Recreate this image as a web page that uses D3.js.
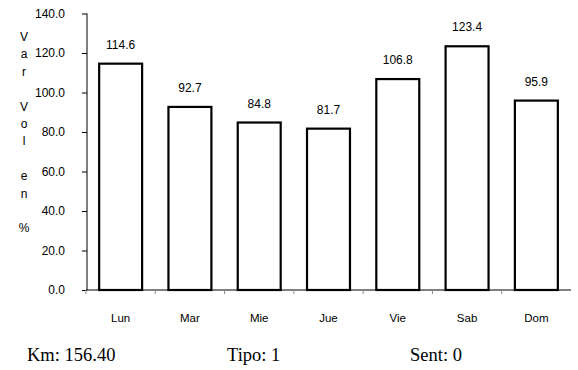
<!DOCTYPE html>
<html><head><meta charset="utf-8">
<script src="https://cdn.jsdelivr.net/npm/d3@7"></script>
<style>body{margin:0;background:#fff}svg{display:block}</style>
</head><body>
<script>
const categories = ["Lun","Mar","Mie","Jue","Vie","Sab","Dom"];
const values = [114.6, 92.7, 84.8, 81.7, 106.8, 123.4, 95.9];
const yTicks = [0,20,40,60,80,100,120,140];
const yTitleChars = ["V","a","r"," ","V","o","l"," ","e","n"," ","%"];
const footer = ["Km: 156.40","Tipo: 1","Sent: 0"];

const W=578,H=370;
const svg=d3.select("body").append("svg").attr("width",W).attr("height",H);
const x0=87,x1=571,yTop=13.5,yBot=290;
const x=d3.scaleBand().domain(categories).range([x0-1,x1]).paddingInner(0.38).paddingOuter(0.19);
const y=d3.scaleLinear().domain([0,140]).range([yBot,yTop]);
const font="Liberation Sans, Arial, sans-serif";

// y axis
const ya=svg.append("g").attr("transform",`translate(${x0},0)`)
  .call(d3.axisLeft(y).tickValues(yTicks).tickFormat(d3.format(".1f")).tickSize(5).tickPadding(17));
ya.select(".domain").remove();
ya.selectAll("line").attr("stroke","#000");
ya.selectAll("text").attr("font-family",font).attr("font-size",12).attr("fill","#000");
svg.append("line").attr("x1",x0).attr("x2",x0).attr("y1",y(140)).attr("y2",yBot).attr("stroke","#000");

// bars
svg.append("g").selectAll("rect").data(values).join("rect")
  .attr("x",(d,i)=>x(categories[i])).attr("width",x.bandwidth())
  .attr("y",d=>y(d)).attr("height",d=>yBot-y(d))
  .attr("fill","#fff").attr("stroke","#000").attr("stroke-width",2.2);

// x axis
svg.append("line").attr("x1",x0-1).attr("x2",x1).attr("y1",yBot).attr("y2",yBot).attr("stroke","#000");
const bounds=d3.range(categories.length).map(i=>x0-1+i*(x.step()));
svg.append("g").selectAll("line").data(bounds).join("line")
  .attr("x1",d=>d).attr("x2",d=>d).attr("y1",yBot).attr("y2",yBot+4).attr("stroke","#888");
svg.append("g").selectAll("text").data(categories).join("text")
  .attr("x",d=>x(d)+x.bandwidth()/2).attr("y",322).attr("text-anchor","middle")
  .attr("font-family",font).attr("font-size",11.5).text(d=>d);

// value labels
svg.append("g").selectAll("text").data(values).join("text")
  .attr("x",(d,i)=>x(categories[i])+x.bandwidth()/2).attr("y",d=>y(d)-15).attr("text-anchor","middle")
  .attr("font-family",font).attr("font-size",12).text(d=>d3.format(".1f")(d));

// y title
svg.append("g").selectAll("text").data(yTitleChars).join("text")
  .attr("x",24).attr("y",(d,i)=>41+i*17.4).attr("text-anchor","middle")
  .attr("font-family",font).attr("font-size",12).text(d=>d);

// footer
const fx=[27,227,410];
svg.append("g").selectAll("text").data(footer).join("text")
  .attr("x",(d,i)=>fx[i]).attr("y",361)
  .attr("font-family","Liberation Serif, Times New Roman, serif").attr("font-size",18.5).text(d=>d);
</script>
</body></html>
